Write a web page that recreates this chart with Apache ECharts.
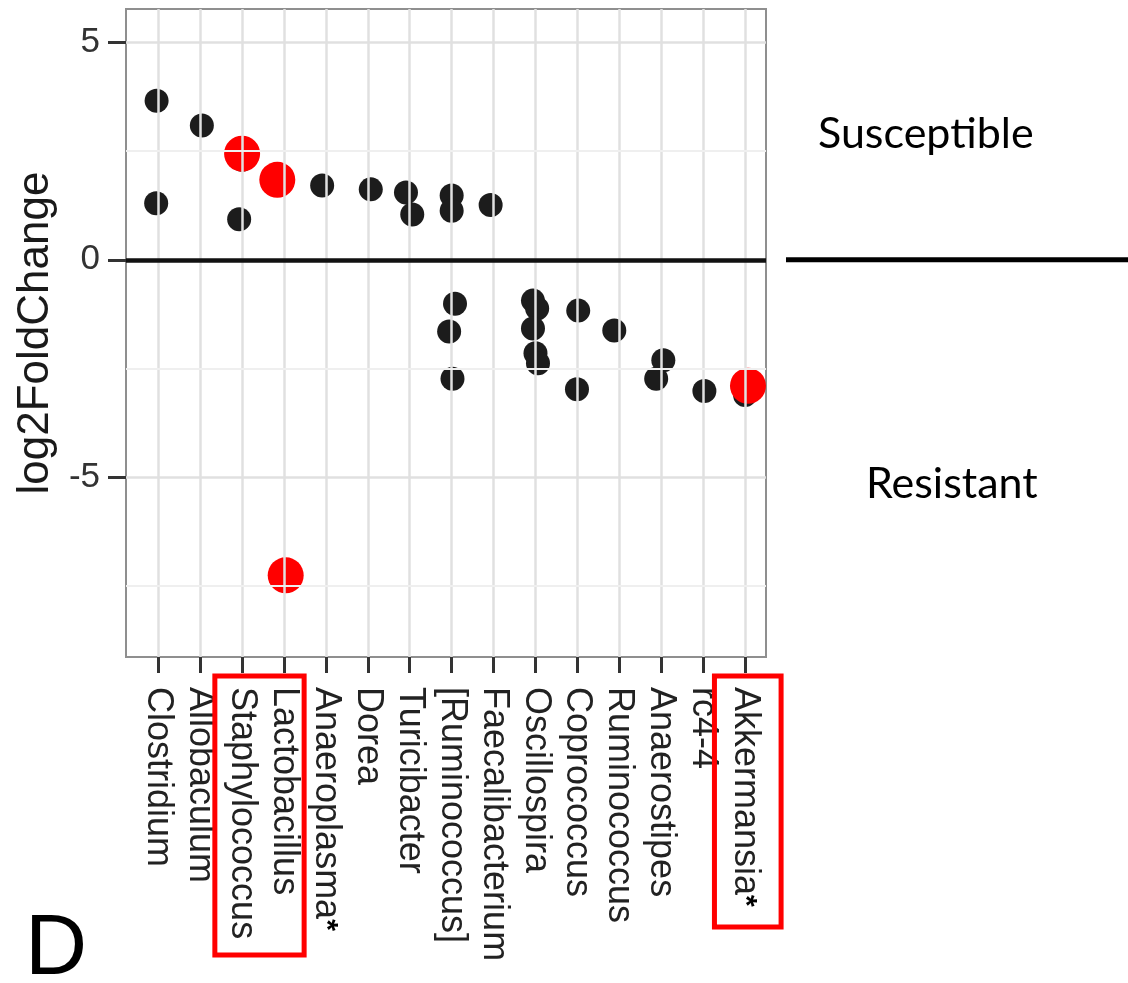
<!DOCTYPE html>
<html>
<head>
<meta charset="utf-8">
<script src="https://cdn.jsdelivr.net/npm/echarts@6/dist/echarts.min.js"></script>
<style>
  html, body { margin: 0; padding: 0; background: #fff; }
  #chart { width: 1128px; height: 983px; }
</style>
</head>
<body>
<div id="chart"></div>
<script>
// ---- data ----
const categories = ['Clostridium','Allobaculum','Staphylococcus','Lactobacillus','Anaeroplasma','Dorea','Turicibacter','[Ruminococcus]','Faecalibacterium','Oscillospira','Coprococcus','Ruminococcus','Anaerostipes','rc4-4','Akkermansia'];
const starred = ['Anaeroplasma','Akkermansia'];

// black points: genus index, log2FoldChange, small horizontal jitter (category units)
const blackGenus  = [0, 0, 1, 2, 2, 3, 3, 4, 5, 6, 6, 7, 7, 7, 7, 7, 8, 9, 9, 9, 9, 9, 10, 10, 11, 12, 12, 13, 14];
const blackLfc    = [3.66, 1.30, 3.09, 2.30, 0.93, 1.95, -7.30, 1.71, 1.62, 1.55, 1.04, 1.48, 1.13, -1.01, -1.65, -2.74, 1.26, -0.94, -1.12, -1.58, -2.15, -2.38, -1.17, -2.98, -1.63, -2.31, -2.74, -3.02, -3.11];
const blackJitter = [-0.04, -0.05, 0.04, 0, -0.07, -0.1, 0.04, -0.09, 0.07, -0.09, 0.06, 0, 0, 0.08, -0.06, 0.02, -0.07, -0.06, 0.04, -0.06, 0, 0.06, 0.02, -0.01, -0.12, 0.05, -0.12, 0.03, 0];

// red highlighted points
const redGenus  = [2, 3, 3, 14];
const redLfc    = [2.44, 1.84, -7.26, -2.90];
const redJitter = [0, -0.16, 0.04, 0.07];

// axis ticks
const yTicks = [-5, 0, 5];
const yMinorGrid = [-7.5, -2.5, 2.5];
const xTicks = categories.map((c, i) => i);

const sideLabels = ['Susceptible', 'Resistant'];
const panelLetter = 'D';

// ---- chart ----
const chart = echarts.init(document.getElementById('chart'), null, { renderer: 'canvas' });
const FONT = "'Liberation Sans', Arial, Helvetica, sans-serif";

const blackData = blackGenus.map((g, i) => [g + blackJitter[i], blackLfc[i]]);
const redData = redGenus.map((g, i) => [g + redJitter[i], redLfc[i]]);

const gridLines = [];
xTicks.forEach(v => gridLines.push({ xAxis: v, lineStyle: { color: '#e0e0e0', width: 2.5, type: 'solid' } }));
yTicks.filter(v => v !== 0).forEach(v => gridLines.push({ yAxis: v, lineStyle: { color: '#e0e0e0', width: 2.5, type: 'solid' } }));
yMinorGrid.forEach(v => gridLines.push({ yAxis: v, lineStyle: { color: '#efefef', width: 2, type: 'solid' } }));

chart.setOption({
  animation: false,
  backgroundColor: '#ffffff',
  textStyle: { fontFamily: FONT },
  grid: {
    left: 126, right: 362, top: 9, bottom: 326,
    show: true, backgroundColor: '#ffffff', borderColor: '#8f8f8f', borderWidth: 2,
    containLabel: false, outerBoundsMode: 'none'
  },
  xAxis: {
    type: 'value', min: -0.77, max: 14.5,
    axisLine: { show: true, onZero: false, lineStyle: { color: '#8f8f8f', width: 2 } },
    splitLine: { show: false },
    axisTick: { show: true, inside: false, customValues: xTicks, length: 16, lineStyle: { color: '#333', width: 3 } },
    axisLabel: {
      customValues: xTicks, rotate: -90, margin: 30,
      fontSize: 36, color: '#222', fontFamily: FONT,
      formatter: v => {
        const name = categories[Math.round(v)];
        return starred.includes(name) ? name + '{s|*}' : name;
      },
      rich: { s: { fontSize: 30, color: '#000', fontWeight: 'bold', fontFamily: FONT } }
    }
  },
  yAxis: {
    type: 'value', min: -9.14, max: 5.77,
    name: 'log2FoldChange', nameLocation: 'middle', nameRotate: 90, nameGap: 68,
    nameTextStyle: { fontSize: 44, color: '#1a1a1a', fontFamily: FONT },
    axisLine: { show: true, onZero: false, lineStyle: { color: '#8f8f8f', width: 2 } },
    splitLine: { show: false },
    axisTick: { show: true, inside: false, customValues: yTicks, length: 18, lineStyle: { color: '#333', width: 3 } },
    axisLabel: { customValues: yTicks, margin: 26, fontSize: 35, color: '#333', fontFamily: FONT }
  },
  series: [
    {
      type: 'scatter', data: [], z: 1, silent: true,
      markLine: {
        silent: true, symbol: ['none', 'none'], label: { show: false },
        animation: false, data: gridLines
      }
    },
    {
      type: 'scatter', data: [], z: 2, silent: true,
      markLine: {
        silent: true, symbol: ['none', 'none'], label: { show: false }, animation: false,
        data: [{ yAxis: 0, lineStyle: { color: '#111', width: 4.5, type: 'solid' } }]
      }
    },
    {
      name: 'genera', type: 'scatter', z: 3, data: blackData,
      symbol: 'circle', symbolSize: 24,
      itemStyle: { color: '#1c1c1c', opacity: 1 }
    },
    {
      name: 'highlighted', type: 'scatter', z: 4, data: redData,
      symbol: 'circle', symbolSize: 36,
      itemStyle: { color: '#ff0000', opacity: 1 }
    }
  ]
});

// annotations positioned through the axes
const px = (x, y) => chart.convertToPixel({ gridIndex: 0 }, [x, y]);
const zeroY = px(0, 0)[1];
const box1L = px(1.35, 0)[0], box1R = px(3.48, 0)[0];
const box2L = px(13.27, 0)[0], box2R = px(14.86, 0)[0];

chart.setOption({
  graphic: [
    { type: 'line', shape: { x1: 786, y1: zeroY, x2: 1128, y2: zeroY }, style: { stroke: '#000', lineWidth: 5 }, z: 10 },
    { type: 'rect', shape: { x: box1L, y: 676, width: box1R - box1L, height: 279 }, style: { fill: 'none', stroke: '#ff0000', lineWidth: 5 }, z: 10 },
    { type: 'rect', shape: { x: box2L, y: 676, width: box2R - box2L, height: 251 }, style: { fill: 'none', stroke: '#ff0000', lineWidth: 5 }, z: 10 },
    { type: 'text', x: 818, y: 134, style: { text: sideLabels[0], font: "43px Lato, 'Open Sans', sans-serif", fill: '#000', verticalAlign: 'middle' }, z: 10 },
    { type: 'text', x: 866, y: 484, style: { text: sideLabels[1], font: "43px Lato, 'Open Sans', sans-serif", fill: '#000', verticalAlign: 'middle' }, z: 10 },
    { type: 'text', x: 25, y: 950, style: { text: panelLetter, font: "86px 'Liberation Sans', Arial, sans-serif", fill: '#000', verticalAlign: 'middle' }, z: 10 }
  ]
});
</script>
</body>
</html>
